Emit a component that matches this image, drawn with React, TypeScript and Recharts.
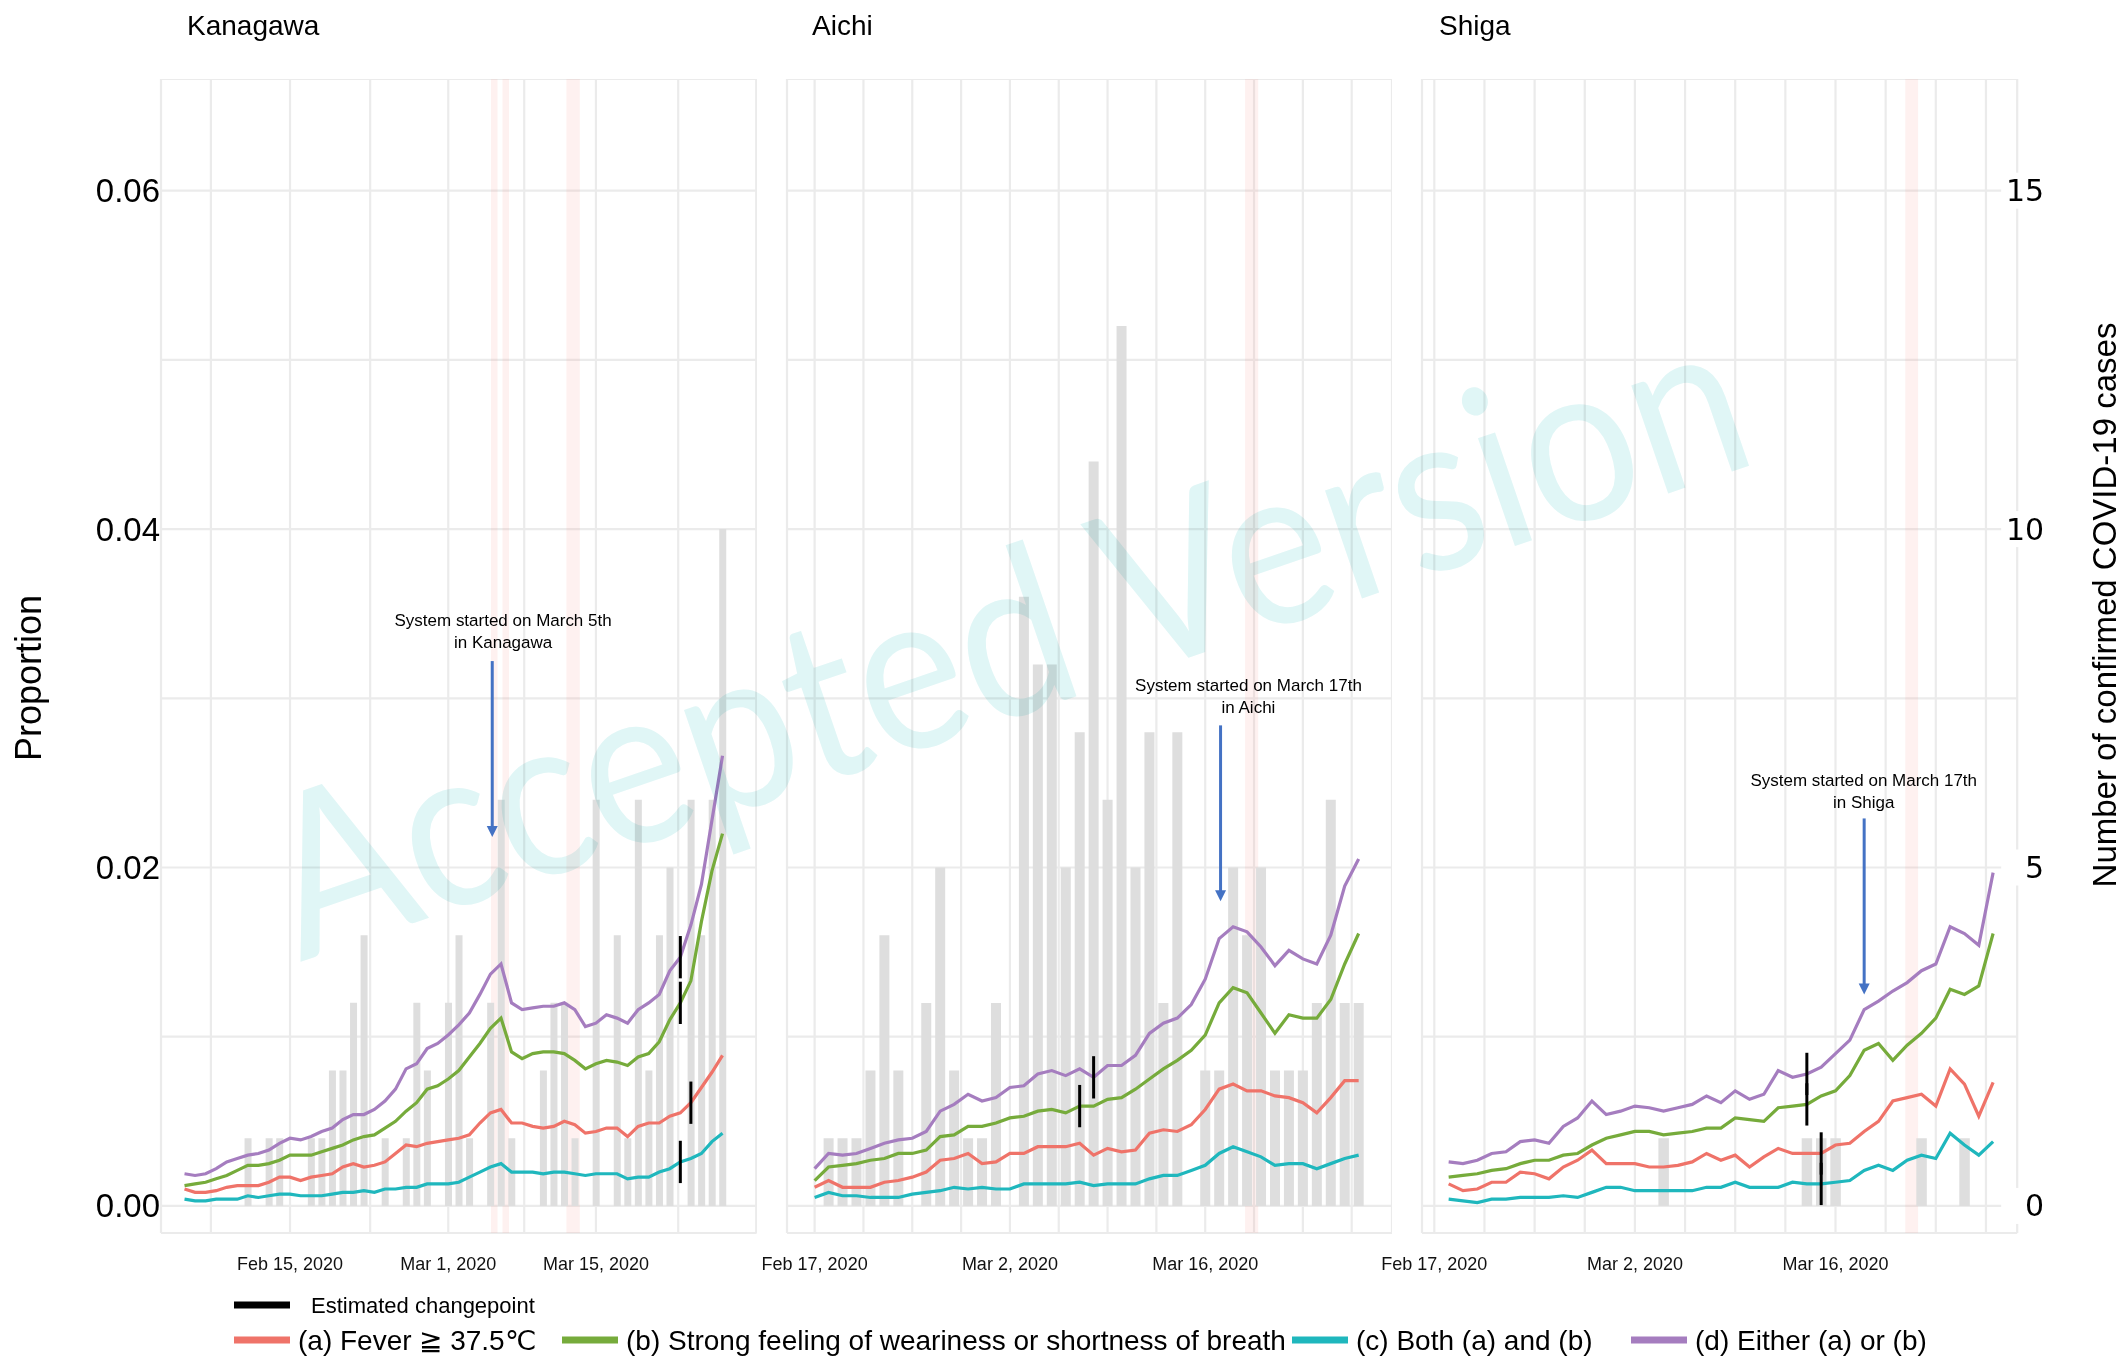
import React from 'react';
import {
  ComposedChart,
  Line,
  Bar,
  XAxis,
  YAxis,
  CartesianGrid,
  ReferenceArea,
  ReferenceLine,
  ReferenceDot,
} from 'recharts';

const FONT = '"Liberation Sans", Arial, sans-serif';

// Day numbers are day-of-year 2020 (Feb 1 = 32, Mar 1 = 61).

// ---------------- Kanagawa: daily values from Feb 5, 2020 ----------------
const kanagawaStart = 36;
const kanagawaFever = [
  0.0010, 0.0008, 0.0008, 0.0009, 0.0011, 0.0012, 0.0012, 0.0012, 0.0014, 0.0017,
  0.0017, 0.0015, 0.0017, 0.0018, 0.0019, 0.0023, 0.0025, 0.0023, 0.0024, 0.0026,
  0.0031, 0.0036, 0.0035, 0.0037, 0.0038, 0.0039, 0.0040, 0.0042, 0.0049, 0.0055,
  0.0057, 0.0049, 0.0049, 0.0047, 0.0046, 0.0047, 0.0050, 0.0048, 0.0043, 0.0044,
  0.0046, 0.0046, 0.0041, 0.0047, 0.0049, 0.0049, 0.0053, 0.0055, 0.0061, 0.0070,
  0.0079, 0.0089,
];
const kanagawaWeak = [
  0.0012, 0.0013, 0.0014, 0.0016, 0.0018, 0.0021, 0.0024, 0.0024, 0.0025, 0.0027,
  0.0030, 0.0030, 0.0030, 0.0032, 0.0034, 0.0036, 0.0039, 0.0041, 0.0042, 0.0046,
  0.0050, 0.0056, 0.0061, 0.0069, 0.0071, 0.0075, 0.0080, 0.0088, 0.0096, 0.0105,
  0.0111, 0.0091, 0.0087, 0.0090, 0.0091, 0.0091, 0.0090, 0.0086, 0.0081, 0.0084,
  0.0086, 0.0085, 0.0083, 0.0088, 0.0090, 0.0097, 0.0110, 0.0120, 0.0133, 0.0168,
  0.0198, 0.0220,
];
const kanagawaBoth = [
  0.0004, 0.0003, 0.0003, 0.0004, 0.0004, 0.0004, 0.0006, 0.0005, 0.0006, 0.0007,
  0.0007, 0.0006, 0.0006, 0.0006, 0.0007, 0.0008, 0.0008, 0.0009, 0.0008, 0.0010,
  0.0010, 0.0011, 0.0011, 0.0013, 0.0013, 0.0013, 0.0014, 0.0017, 0.0020, 0.0023,
  0.0025, 0.0020, 0.0020, 0.0020, 0.0019, 0.0020, 0.0020, 0.0019, 0.0018, 0.0019,
  0.0019, 0.0019, 0.0016, 0.0017, 0.0017, 0.0020, 0.0022, 0.0026, 0.0028, 0.0031,
  0.0038, 0.0043,
];
const kanagawaEither = [
  0.0019, 0.0018, 0.0019, 0.0022, 0.0026, 0.0028, 0.0030, 0.0031, 0.0033, 0.0037,
  0.0040, 0.0039, 0.0041, 0.0044, 0.0046, 0.0051, 0.0054, 0.0054, 0.0057, 0.0062,
  0.0069, 0.0081, 0.0084, 0.0093, 0.0096, 0.0101, 0.0107, 0.0114, 0.0125, 0.0137,
  0.0143, 0.0120, 0.0116, 0.0117, 0.0118, 0.0118, 0.0120, 0.0116, 0.0106, 0.0108,
  0.0113, 0.0111, 0.0108, 0.0116, 0.0120, 0.0125, 0.0139, 0.0147, 0.0166, 0.0190,
  0.0228, 0.0266,
];
const kanagawaCases = [
  0, 0, 0, 0, 0, 0, 1, 0, 1, 1,
  0, 0, 1, 1, 2, 2, 3, 4, 0, 1,
  0, 1, 3, 2, 0, 3, 4, 1, 0, 3,
  6, 1, 0, 0, 2, 3, 3, 1, 0, 6,
  0, 4, 1, 6, 2, 4, 5, 0, 6, 4,
  6, 10,
];

// ---------------- Aichi: daily values from Feb 17, 2020 ----------------
const aichiStart = 48;
const aichiFever = [
  0.0011, 0.0015, 0.0011, 0.0011, 0.0011, 0.0014, 0.0015, 0.0017, 0.0020, 0.0027,
  0.0028, 0.0031, 0.0025, 0.0026, 0.0031, 0.0031, 0.0035, 0.0035, 0.0035, 0.0037,
  0.0030, 0.0034, 0.0032, 0.0033, 0.0043, 0.0045, 0.0044, 0.0048, 0.0057, 0.0069,
  0.0072, 0.0068, 0.0068, 0.0065, 0.0064, 0.0061, 0.0055, 0.0064, 0.0074, 0.0074,
];
const aichiWeak = [
  0.0015, 0.0023, 0.0024, 0.0025, 0.0027, 0.0028, 0.0031, 0.0031, 0.0033, 0.0041,
  0.0042, 0.0047, 0.0047, 0.0049, 0.0052, 0.0053, 0.0056, 0.0057, 0.0055, 0.0059,
  0.0059, 0.0063, 0.0064, 0.0069, 0.0075, 0.0081, 0.0086, 0.0092, 0.0101, 0.0120,
  0.0129, 0.0126, 0.0114, 0.0102, 0.0113, 0.0111, 0.0111, 0.0122, 0.0143, 0.0161,
];
const aichiBoth = [
  0.0005, 0.0008, 0.0006, 0.0006, 0.0005, 0.0005, 0.0005, 0.0007, 0.0008, 0.0009,
  0.0011, 0.0010, 0.0011, 0.0010, 0.0010, 0.0013, 0.0013, 0.0013, 0.0013, 0.0014,
  0.0012, 0.0013, 0.0013, 0.0013, 0.0016, 0.0018, 0.0018, 0.0021, 0.0024, 0.0031,
  0.0035, 0.0032, 0.0029, 0.0024, 0.0025, 0.0025, 0.0022, 0.0025, 0.0028, 0.0030,
];
const aichiEither = [
  0.0022, 0.0031, 0.0030, 0.0031, 0.0034, 0.0037, 0.0039, 0.0040, 0.0044, 0.0056,
  0.0060, 0.0066, 0.0062, 0.0064, 0.0070, 0.0071, 0.0078, 0.0080, 0.0077, 0.0081,
  0.0076, 0.0083, 0.0083, 0.0089, 0.0102, 0.0108, 0.0111, 0.0119, 0.0134, 0.0158,
  0.0165, 0.0162, 0.0153, 0.0142, 0.0151, 0.0146, 0.0143, 0.0160, 0.0189, 0.0205,
];
const aichiCases = [
  0, 1, 1, 1, 2, 4, 2, 0, 3, 5,
  2, 1, 1, 3, 0, 9, 8, 8, 5, 7,
  11, 6, 13, 5, 7, 3, 7, 0, 2, 2,
  5, 4, 5, 2, 2, 2, 3, 6, 3, 3,
];

// ---------------- Shiga: daily values from Feb 18, 2020 ----------------
const shigaStart = 49;
const shigaFever = [
  0.0013, 0.0009, 0.0010, 0.0014, 0.0014, 0.0020, 0.0019, 0.0016, 0.0023, 0.0027,
  0.0033, 0.0025, 0.0025, 0.0025, 0.0023, 0.0023, 0.0024, 0.0026, 0.0031, 0.0027,
  0.0030, 0.0023, 0.0029, 0.0034, 0.0031, 0.0031, 0.0031, 0.0036, 0.0037, 0.0044,
  0.0050, 0.0062, 0.0064, 0.0066, 0.0059, 0.0081, 0.0072, 0.0053, 0.0073,
];
const shigaWeak = [
  0.0017, 0.0018, 0.0019, 0.0021, 0.0022, 0.0025, 0.0027, 0.0027, 0.0030, 0.0031,
  0.0036, 0.0040, 0.0042, 0.0044, 0.0044, 0.0042, 0.0043, 0.0044, 0.0046, 0.0046,
  0.0052, 0.0051, 0.0050, 0.0058, 0.0059, 0.0060, 0.0065, 0.0068, 0.0077, 0.0092,
  0.0096, 0.0086, 0.0095, 0.0102, 0.0111, 0.0128, 0.0125, 0.0130, 0.0161,
];
const shigaBoth = [
  0.0004, 0.0003, 0.0002, 0.0004, 0.0004, 0.0005, 0.0005, 0.0005, 0.0006, 0.0005,
  0.0008, 0.0011, 0.0011, 0.0009, 0.0009, 0.0009, 0.0009, 0.0009, 0.0011, 0.0011,
  0.0014, 0.0011, 0.0011, 0.0011, 0.0014, 0.0013, 0.0013, 0.0014, 0.0015, 0.0021,
  0.0024, 0.0021, 0.0027, 0.0030, 0.0028, 0.0043, 0.0036, 0.0030, 0.0038,
];
const shigaEither = [
  0.0026, 0.0025, 0.0027, 0.0031, 0.0032, 0.0038, 0.0039, 0.0037, 0.0047, 0.0052,
  0.0062, 0.0054, 0.0056, 0.0059, 0.0058, 0.0056, 0.0058, 0.0060, 0.0065, 0.0061,
  0.0068, 0.0063, 0.0066, 0.0080, 0.0076, 0.0078, 0.0082, 0.0090, 0.0098, 0.0116,
  0.0121, 0.0127, 0.0132, 0.0139, 0.0143, 0.0165, 0.0161, 0.0154, 0.0197,
];
const shigaCases = [
  0, 0, 0, 0, 0, 0, 0, 0, 0, 0,
  0, 0, 0, 0, 0, 1, 0, 0, 0, 0,
  0, 0, 0, 0, 0, 1, 1, 1, 0, 0,
  0, 0, 0, 1, 0, 0, 1, 0, 0,
];

// ---------------- Axis ticks ----------------
const kanagawaGridDays = [38.5, 46, 53.6, 61, 68.2, 75, 82.8, 90.2];
const kanagawaLabelDays = [46, 61, 75];
const kanagawaLabels = ['Feb 15, 2020', 'Mar 1, 2020', 'Mar 15, 2020'];
const halfWeekGridDays = [48, 51.5, 55, 58.5, 62, 65.5, 69, 72.5, 76, 79.5, 83, 86.5];
const aichiLabelDays = [48, 62, 76];
const aichiLabels = ['Feb 17, 2020', 'Mar 2, 2020', 'Mar 16, 2020'];
const shigaLabelDays = [48, 62, 76];
const shigaLabels = ['Feb 17, 2020', 'Mar 2, 2020', 'Mar 16, 2020'];

const proportionGrid = [0, 0.01, 0.02, 0.03, 0.04, 0.05, 0.06];
const proportionLabels = ['0.00', '', '0.02', '', '0.04', '', '0.06'];
const caseTicks = [0, 5, 10, 15];

// ---------------- Estimated changepoints ----------------
const kanagawaChangepoints = [
  { series: 'either', day: 83 },
  { series: 'weak', day: 83 },
  { series: 'fever', day: 84 },
  { series: 'both', day: 83 },
];
const aichiChangepoints = [
  { series: 'either', day: 68 },
  { series: 'weak', day: 67 },
];
const shigaChangepoints = [
  { series: 'either', day: 74 },
  { series: 'weak', day: 74 },
  { series: 'fever', day: 75 },
  { series: 'both', day: 75 },
];

// ---------------- Shaded days ----------------
const kanagawaBands = [[65.05, 65.67], [66.14, 66.76], [72.2, 73.47]];
const aichiBands = [[78.86, 79.8]];
const shigaBands = [[80.87, 81.76]];

// ---------------- Notes ----------------
const kanagawaNote = {
  lines: ['System started on March 5th', 'in Kanagawa'],
  arrowDay: 65.17, arrowFrom: 0.0322, arrowTo: 0.0218, textDay: 66.2, textAt: 0.0346,
};
const aichiNote = {
  lines: ['System started on March 17th', 'in Aichi'],
  arrowDay: 77.1, arrowFrom: 0.0284, arrowTo: 0.018, textDay: 79.1, textAt: 0.0308,
};
const shigaNote = {
  lines: ['System started on March 17th', 'in Shiga'],
  arrowDay: 78.0, arrowFrom: 0.0229, arrowTo: 0.0125, textDay: 77.97, textAt: 0.0252,
};

const SERIES = [
  { key: 'fever', name: '(a) Fever ≧ 37.5℃', color: '#EF7369' },
  { key: 'weak', name: '(b) Strong feeling of weariness or shortness of breath', color: '#76AB3B' },
  { key: 'both', name: '(c) Both (a) and (b)', color: '#1FB7BD' },
  { key: 'either', name: '(d) Either (a) or (b)', color: '#A57DBF' },
];

// ---------------- Layout ----------------
const PLOT_TOP = 79;
const PLOT_H = 1154;
const XAXIS_H = 60;
const SIDE_PAD = 70; // room for tick labels that hang past a panel's left edge
const P_DOMAIN: [number, number] = [-0.0016, 0.0666];
const N_DOMAIN: [number, number] = [P_DOMAIN[0] * 250, P_DOMAIN[1] * 250];
const CP_HALF = 0.00125;

const panels = [
  {
    title: 'Kanagawa', titleX: 187,
    start: kanagawaStart, fever: kanagawaFever, weak: kanagawaWeak, both: kanagawaBoth,
    either: kanagawaEither, cases: kanagawaCases,
    gridDays: kanagawaGridDays, labelDays: kanagawaLabelDays, labels: kanagawaLabels,
    changepoints: kanagawaChangepoints, bands: kanagawaBands, note: kanagawaNote,
    plotLeft: 161, plotWidth: 595.6, leftAxis: 161, rightAxis: 0, xDomain: [33.77, 90.23], barSize: 7,
  },
  {
    title: 'Aichi', titleX: 812,
    start: aichiStart, fever: aichiFever, weak: aichiWeak, both: aichiBoth,
    either: aichiEither, cases: aichiCases,
    gridDays: halfWeekGridDays, labelDays: aichiLabelDays, labels: aichiLabels,
    changepoints: aichiChangepoints, bands: aichiBands, note: aichiNote,
    plotLeft: 787, plotWidth: 605, leftAxis: 0, rightAxis: 0, xDomain: [46.02, 89.39], barSize: 10,
  },
  {
    title: 'Shiga', titleX: 1439,
    start: shigaStart, fever: shigaFever, weak: shigaWeak, both: shigaBoth,
    either: shigaEither, cases: shigaCases,
    gridDays: halfWeekGridDays, labelDays: shigaLabelDays, labels: shigaLabels,
    changepoints: shigaChangepoints, bands: shigaBands, note: shigaNote,
    plotLeft: 1421.8, plotWidth: 595.2, leftAxis: 0, rightAxis: 60, xDomain: [47.14, 88.68], barSize: 10.5,
  },
];

const Arrow = (p: any) => {
  const { x1, y1, x2, y2 } = p;
  return (
    <g>
      <line x1={x1} y1={y1} x2={x2} y2={y2 - 8} stroke="#4472C4" strokeWidth={3} />
      <polygon points={`${x2 - 5.5},${y2 - 11} ${x2 + 5.5},${y2 - 11} ${x2},${y2}`} fill="#4472C4" />
    </g>
  );
};

function Panel({ cfg }: { cfg: any }) {
  const rows = cfg.fever.map((v: number, i: number) => ({
    day: cfg.start + i,
    fever: v,
    weak: cfg.weak[i],
    both: cfg.both[i],
    either: cfg.either[i],
    cases: cfg.cases[i],
  }));
  const valueAt = (series: string, day: number) => cfg[series][day - cfg.start];
  const labelFor = (d: number) => {
    const k = cfg.labelDays.indexOf(d);
    return k >= 0 ? cfg.labels[k] : '';
  };
  const note = cfg.note;
  // panels without a left axis get blank margin instead, so date labels are not clipped
  const padLeft = cfg.leftAxis ? 0 : SIDE_PAD;
  const chartLeft = cfg.plotLeft - (cfg.leftAxis || padLeft);
  const chartWidth = cfg.plotWidth + (cfg.leftAxis || padLeft) + cfg.rightAxis;

  return (
    <div style={{ position: 'absolute', left: chartLeft, top: PLOT_TOP }}>
      <ComposedChart
        width={chartWidth}
        height={PLOT_H + XAXIS_H}
        data={rows}
        margin={{ top: 0, right: 0, bottom: 0, left: padLeft }}
      >
        <CartesianGrid yAxisId="p" stroke="#EBEBEB" strokeWidth={2.2} />
        <XAxis
          type="number"
          dataKey="day"
          domain={cfg.xDomain}
          ticks={cfg.gridDays}
          interval={0}
          allowDataOverflow
          height={XAXIS_H}
          axisLine={false}
          tickLine={false}
          tickSize={0}
          tickMargin={0}
          tick={(t: any) => {
            const lab = labelFor(t.payload.value);
            if (!lab) return <g />;
            return (
              <text x={t.x} y={t.y + 31} textAnchor="middle" dominantBaseline="central"
                fontSize={18} fontFamily={FONT} fill="#111">{lab}</text>
            );
          }}
        />
        <YAxis
          yAxisId="p"
          domain={P_DOMAIN}
          ticks={proportionGrid}
          allowDataOverflow
          hide={!cfg.leftAxis}
          width={cfg.leftAxis || 0}
          axisLine={false}
          tickLine={false}
          tickSize={0}
          tickMargin={0}
          interval={0}
          tick={(t: any) => {
            const k = proportionGrid.indexOf(t.payload.value);
            const lab = k >= 0 ? proportionLabels[k] : '';
            if (!lab) return <g />;
            return (
              <text x={t.x - 1} y={t.y} textAnchor="end" dominantBaseline="central"
                fontSize={33} fontFamily={FONT} fill="#000">{lab}</text>
            );
          }}
        />
        <YAxis
          yAxisId="n"
          orientation="right"
          domain={N_DOMAIN}
          ticks={caseTicks}
          allowDataOverflow
          hide={!cfg.rightAxis}
          width={cfg.rightAxis || 0}
          axisLine={false}
          tickLine={false}
          tickSize={0}
          tickMargin={0}
          interval={0}
          tick={(t: any) => (
            <g>
              <rect x={t.x - 16} y={t.y - 18} width={48} height={36} fill="#fff" />
              <text x={t.x + 27} y={t.y} textAnchor="end" dominantBaseline="central"
                fontSize={30} fontFamily='"DejaVu Sans", sans-serif' fill="#000">{t.payload.value}</text>
            </g>
          )}
        />
        <Bar yAxisId="n" dataKey="cases" fill="#DEDEDE" barSize={cfg.barSize} isAnimationActive={false} />
        {cfg.bands.map((b: number[], i: number) => (
          <ReferenceArea key={`band${i}`} yAxisId="p" x1={b[0]} x2={b[1]}
            fill="#F8766D" fillOpacity={0.1} stroke="none" />
        ))}
        {SERIES.map((s) => (
          <Line key={s.key} yAxisId="p" type="linear" dataKey={s.key} stroke={s.color}
            strokeWidth={3.2} dot={false} activeDot={false} isAnimationActive={false} />
        ))}
        {cfg.changepoints.map((c: any, i: number) => {
          const v = valueAt(c.series, c.day);
          return (
            <ReferenceLine key={`cp${i}`} yAxisId="p"
              segment={[{ x: c.day, y: v - CP_HALF }, { x: c.day, y: v + CP_HALF }]}
              stroke="#000" strokeWidth={3} />
          );
        })}
        <ReferenceLine yAxisId="p"
          segment={[{ x: note.arrowDay, y: note.arrowFrom }, { x: note.arrowDay, y: note.arrowTo }]}
          shape={Arrow} />
        <ReferenceDot yAxisId="p" x={note.textDay} y={note.textAt} r={0}
          shape={(p: any) => (
            <text x={p.cx} y={p.cy} textAnchor="middle" dominantBaseline="central"
              fontSize={17} fontFamily={FONT} fill="#000">
              <tspan x={p.cx} dy={0}>{note.lines[0]}</tspan>
              <tspan x={p.cx} dy={22}>{note.lines[1]}</tspan>
            </text>
          )} />
      </ComposedChart>
    </div>
  );
}

const legendKeyX = [234, 562, 1292, 1631];

export default function App() {
  return (
    <div style={{ position: 'absolute', left: 0, top: 0, width: 2125, height: 1357, background: '#fff', fontFamily: FONT, overflow: 'hidden' }}>
      {panels.map((p) => <Panel key={p.title} cfg={p} />)}
      <svg width={2125} height={1357} style={{ position: 'absolute', left: 0, top: 0, pointerEvents: 'none' }}>
        {panels.map((p) => (
          <text key={p.title} x={p.titleX} y={34.5} fontSize={28} fontFamily={FONT} fill="#000">{p.title}</text>
        ))}
        <text transform="translate(28,678) rotate(-90)" textAnchor="middle" dominantBaseline="central"
          fontSize={36} fontFamily={FONT} fill="#000">Proportion</text>
        <text transform="translate(2104,605) rotate(-90)" textAnchor="middle" dominantBaseline="central"
          fontSize={33} fontFamily={FONT} fill="#000">Number of confirmed COVID-19 cases</text>
        {/* legend */}
        <line x1={234} x2={290} y1={1305} y2={1305} stroke="#000" strokeWidth={7} />
        <text x={311} y={1305} dominantBaseline="central" fontSize={22} fontFamily={FONT} fill="#000">Estimated changepoint</text>
        {SERIES.map((s, i) => (
          <g key={s.key}>
            <line x1={legendKeyX[i]} x2={legendKeyX[i] + 56} y1={1340} y2={1340} stroke={s.color} strokeWidth={7} />
            <text x={legendKeyX[i] + 64} y={1340} dominantBaseline="central" fontSize={28} fontFamily={FONT} fill="#000">{s.name}</text>
          </g>
        ))}
      </svg>
      <svg width={2125} height={1357} style={{ position: 'absolute', left: 0, top: 0, pointerEvents: 'none', mixBlendMode: 'multiply' }}>
        <text x={300} y={962} transform="rotate(-18.9 300 962)" fontSize={225} fontFamily="Lato, sans-serif" fontWeight={400}
          fill="#E0F6F6" textLength={1545} lengthAdjust="spacingAndGlyphs">Accepted Version</text>
      </svg>
    </div>
  );
}
